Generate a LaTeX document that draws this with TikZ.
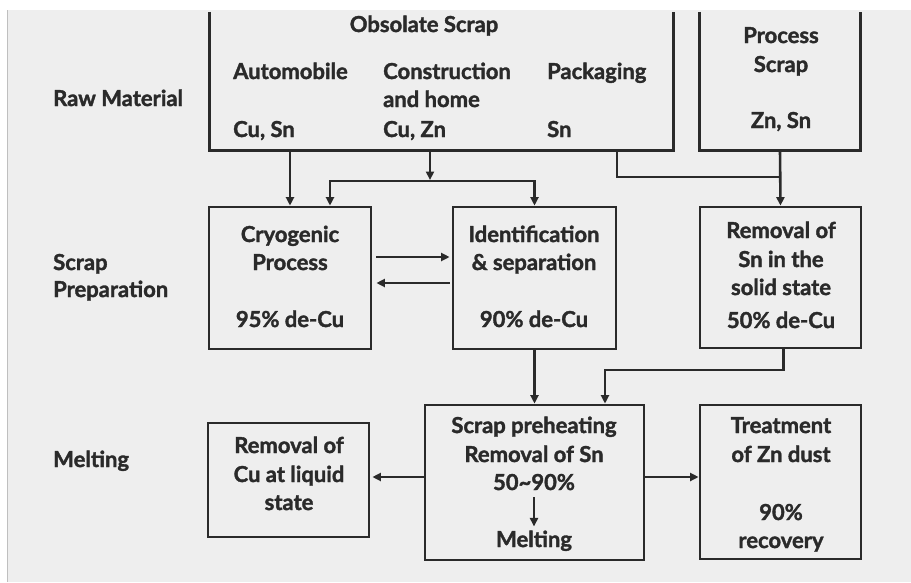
\documentclass[tikz,border=0pt]{standalone}
\usepackage{fontspec}
\setmainfont{Lato}[BoldFeatures={FakeBold=1.6}]
\usetikzlibrary{arrows.meta,calc}
\definecolor{ink}{HTML}{2A2A2A}
\definecolor{paper}{HTML}{EEEEEE}
\begin{document}
\begin{tikzpicture}[x=1pt,y=-1pt,
  boxshape/.style={draw=ink,line width=2.8pt,inner sep=0pt},
  openbox/.style={draw=none,inner sep=0pt},
  ln/.style={draw=ink,line width=2.6pt},
  tipT/.tip={Triangle[length=8.5pt,width=8pt]},
  arr/.style={ln,-tipT},
  arrtwo/.style={ln,tipT-tipT},
  txt/.style={text=ink,font=\fontsize{22}{24}\selectfont\bfseries,anchor=base,inner sep=0pt},
  txtw/.style={txt,anchor=base west},
]
\useasboundingbox (0,0) rectangle (911,582);
\fill[white] (0,0) rectangle (911,582);
\fill[paper] (7,10) rectangle (911,582);
\draw[black!25,line width=1pt] (7,10) -- (7,582);

% boxes
\node[openbox,minimum width=463pt,minimum height=138pt] (obs) at (441.5,81) {};
\draw[ln,line width=2.8pt] (obs.north west) |- (obs.south east) -- (obs.north east);
\node[openbox,minimum width=160pt,minimum height=138pt] (proc) at (780,81) {};
\draw[ln,line width=2.8pt] (proc.north west) |- (proc.south east) -- (proc.north east);

\node[boxshape,minimum width=162pt,minimum height=142pt] (cryo) at (290,278) {};
\node[boxshape,minimum width=163pt,minimum height=142pt] (ident) at (534.5,278) {};
\node[boxshape,minimum width=161pt,minimum height=141pt] (remsn) at (780.5,277.5) {};
\node[boxshape,minimum width=219pt,minimum height=155pt] (preh) at (534.5,482.5) {};
\node[boxshape,minimum width=161pt,minimum height=114pt] (remcu) at (288.5,480) {};
\node[boxshape,minimum width=161pt,minimum height=154pt] (treat) at (780.5,482) {};

% side labels
\node[txtw] (lraw) at (53,106) {Raw Material};
\node[txtw] (lscr1) at (53,270) {Scrap};
\node[txtw] (lscr2) at (53,297) {Preparation};
\node[txtw] (lmelt) at (53,467) {Melting};

% obsolate scrap contents
\node[txt] (o0) at (424,32) {Obsolate Scrap};
\node[txtw] (o1) at (233,79) {Automobile};
\node[txtw] (o2) at (383,79) {Construction};
\node[txtw] (o3) at (383,107) {and home};
\node[txtw] (o4) at (547,79) {Packaging};
\node[txtw] (o5) at (233,137) {Cu, Sn};
\node[txtw] (o6) at (383,137) {Cu, Zn};
\node[txtw] (o7) at (547,137) {Sn};

% process scrap
\node[txt] (p1) at (781,43) {Process};
\node[txt] (p2) at (781,72) {Scrap};
\node[txt] (p3) at (781,128) {Zn, Sn};

% cryogenic
\node[txt] (c1) at (290,242) {Cryogenic};
\node[txt] (c2) at (290,270) {Process};
\node[txt] (c3) at (290,327) {95\% de-Cu};

% identification
\node[txt] (i1) at (534,242) {Identification};
\node[txt] (i2) at (534,270) {\& separation};
\node[txt] (i3) at (534,327) {90\% de-Cu};

% removal of Sn
\node[txt] (s1) at (781,238) {Removal of};
\node[txt] (s2) at (781,267) {Sn in the};
\node[txt] (s3) at (781,295) {solid state};
\node[txt] (s4) at (781,328) {50\% de-Cu};

% preheating
\node[txt] (h1) at (534,433) {Scrap preheating};
\node[txt] (h2) at (534,462) {Removal of Sn};
\node[txt] (h3) at (534,490) {50\textasciitilde 90\%};
\node[txt] (h4) at (534,547) {Melting};

% removal of Cu
\node[txt] (u1) at (289,453) {Removal of};
\node[txt] (u2) at (289,482) {Cu at liquid};
\node[txt] (u3) at (289,510) {state};

% treatment
\node[txt] (t1) at (781,433) {Treatment};
\node[txt] (t2) at (781,462) {of Zn dust};
\node[txt] (t3) at (781,520) {90\%};
\node[txt] (t4) at (781,548) {recovery};

% connectors
\draw[arr] (cryo.north |- obs.south) -- (cryo.north);
\coordinate (j1) at (430,181);
\coordinate (jl) at (330,181);
\draw[arr,shorten >=1pt] (j1 |- obs.south) -- (j1);
\draw[arrtwo] (jl |- cryo.north) -- (jl) -- (j1 -| ident.north) -- (ident.north);
\coordinate (pk) at (617,177);
\draw[ln] (pk |- obs.south) -- (pk) -- (pk -| proc.south);
\draw[arr] (proc.south) -- (remsn.north);
\draw[arr,shorten <=4pt,shorten >=2pt] ([yshift=21pt]cryo.east) -- ([yshift=21pt]cryo.east -| ident.west);
\draw[arr,shorten <=2pt,shorten >=4pt] ([yshift=-5pt]ident.west) -- ([yshift=-5pt]ident.west -| cryo.east);
\draw[arr] (ident.south) -- (preh.north);
\coordinate (k) at (605,370);
\draw[arr] ([xshift=3pt]remsn.south) |- (k) -- (k |- preh.north);
\draw[arr,shorten >=2pt] ([yshift=5.5pt]preh.west) -- ([yshift=5.5pt]preh.west -| remcu.east);
\draw[arr] ([yshift=5.5pt]preh.east) -- ([yshift=5.5pt]preh.east -| treat.west);
\draw[arr,line width=2.2pt,shorten <=7pt,shorten >=4pt] (h3.south) -- (h4.north);
\end{tikzpicture}
\end{document}
